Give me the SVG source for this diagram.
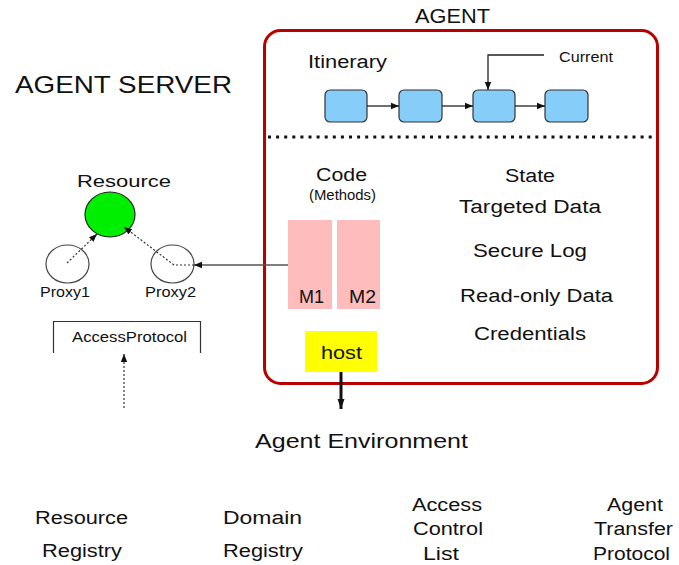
<svg xmlns="http://www.w3.org/2000/svg" width="679" height="565" viewBox="0 0 679 565">
  <style>
    text { font-family: "Liberation Sans", Arial, sans-serif; fill: #111; }
    .title { font-size: 24px; }
    .big { font-size: 20px; }
    .lbl { font-size: 18px; }
    .mid { font-size: 17px; }
    .sm { font-size: 15px; }
    .xs { font-size: 14px; }
    .hop { fill: #87cdfa; stroke: #333; stroke-width: 1.2; }
    .link { fill: none; stroke: #222; stroke-width: 1.3; }
    .dot { fill: none; stroke: #333; stroke-width: 1.2; stroke-dasharray: 2 2; }
    .proxy { fill: #fff; stroke: #444; stroke-width: 1.2; }
    .method { fill: #ffbcbc; }
  </style>
  <defs>
    <marker id="tri" viewBox="0 0 10 10" refX="10" refY="5" markerWidth="8" markerHeight="8" markerUnits="userSpaceOnUse" orient="auto">
      <path d="M0,1 L10,5 L0,9 z" fill="#111"/>
    </marker>
    <marker id="triBig" viewBox="0 0 10 10" refX="10" refY="5" markerWidth="10" markerHeight="10" markerUnits="userSpaceOnUse" orient="auto">
      <path d="M0,1.5 L10,5 L0,8.5 z" fill="#111"/>
    </marker>
  </defs>

  <rect width="679" height="565" fill="#fff"/>

  <!-- headings -->
  <text class="title" x="15" y="93" textLength="217" lengthAdjust="spacingAndGlyphs">AGENT SERVER</text>
  <text class="big" x="415" y="23" textLength="75" lengthAdjust="spacingAndGlyphs">AGENT</text>

  <!-- agent container -->
  <g id="agent">
    <rect x="264.5" y="30.5" width="393" height="353" rx="16" ry="16" fill="none" stroke="#b80000" stroke-width="3"/>
    <line x1="268" y1="137" x2="652" y2="137" stroke="#111" stroke-width="3" stroke-dasharray="3 5.1"/>
    <text class="lbl" x="308" y="68" textLength="79" lengthAdjust="spacingAndGlyphs">Itinerary</text>
    <text class="xs" x="559" y="62" textLength="54" lengthAdjust="spacingAndGlyphs">Current</text>
    <text class="lbl" x="316" y="181" textLength="51" lengthAdjust="spacingAndGlyphs">Code</text>
    <text class="sm" x="309" y="199.5" textLength="67" lengthAdjust="spacingAndGlyphs">(Methods)</text>
    <text class="lbl" x="505" y="182" textLength="50" lengthAdjust="spacingAndGlyphs">State</text>
    <text class="lbl" x="459" y="213" textLength="142" lengthAdjust="spacingAndGlyphs">Targeted Data</text>
    <text class="lbl" x="473" y="257" textLength="114" lengthAdjust="spacingAndGlyphs">Secure Log</text>
    <text class="lbl" x="460" y="302" textLength="153" lengthAdjust="spacingAndGlyphs">Read-only Data</text>
    <text class="lbl" x="474" y="340" textLength="112" lengthAdjust="spacingAndGlyphs">Credentials</text>
  </g>

  <!-- itinerary hops -->
  <g id="hop1"><rect class="hop" x="325" y="90" width="42" height="32" rx="5"/></g>
  <g id="hop2"><rect class="hop" x="399" y="90" width="43" height="32" rx="5"/></g>
  <g id="hop3"><rect class="hop" x="473" y="90" width="42" height="32" rx="5"/></g>
  <g id="hop4"><rect class="hop" x="545" y="90" width="43" height="32" rx="5"/></g>

  <!-- methods and host -->
  <g id="m1">
    <rect class="method" x="288" y="220" width="44" height="89"/>
    <text class="lbl" x="299" y="303" textLength="25" lengthAdjust="spacingAndGlyphs">M1</text>
  </g>
  <g id="m2">
    <rect class="method" x="337" y="220" width="43" height="89"/>
    <text class="lbl" x="349" y="303" textLength="27" lengthAdjust="spacingAndGlyphs">M2</text>
  </g>
  <g id="host">
    <rect x="305" y="331" width="72" height="41" fill="#ffff00"/>
    <text class="lbl" x="321" y="359" textLength="41" lengthAdjust="spacingAndGlyphs">host</text>
  </g>

  <!-- agent server side -->
  <g id="resource">
    <text class="mid" x="77" y="187" textLength="94" lengthAdjust="spacingAndGlyphs">Resource</text>
    <ellipse cx="110" cy="214.5" rx="25" ry="22.5" fill="#00ee00" stroke="#222" stroke-width="1.2"/>
  </g>
  <g id="proxy1">
    <ellipse class="proxy" cx="67.5" cy="264" rx="21.5" ry="19"/>
    <text class="xs" x="40" y="297" textLength="50" lengthAdjust="spacingAndGlyphs">Proxy1</text>
  </g>
  <g id="proxy2">
    <ellipse class="proxy" cx="172.5" cy="264" rx="21.5" ry="19"/>
    <text class="xs" x="145" y="297" textLength="51" lengthAdjust="spacingAndGlyphs">Proxy2</text>
  </g>
  <g id="access-protocol">
    <path d="M53.5,353 V321.5 H200.5 V353" fill="none" stroke="#333" stroke-width="1.2"/>
    <text class="xs" x="72" y="342" textLength="115" lengthAdjust="spacingAndGlyphs">AccessProtocol</text>
  </g>

  <!-- lower labels -->
  <g id="agent-environment">
    <text class="big" x="255" y="448" textLength="213" lengthAdjust="spacingAndGlyphs">Agent Environment</text>
  </g>
  <g id="resource-registry">
    <text class="lbl" x="35" y="524" textLength="93" lengthAdjust="spacingAndGlyphs">Resource</text>
    <text class="lbl" x="42" y="557" textLength="80" lengthAdjust="spacingAndGlyphs">Registry</text>
  </g>
  <g id="domain-registry">
    <text class="lbl" x="223" y="524" textLength="79" lengthAdjust="spacingAndGlyphs">Domain</text>
    <text class="lbl" x="223" y="557" textLength="80" lengthAdjust="spacingAndGlyphs">Registry</text>
  </g>
  <g id="access-control-list">
    <text class="lbl" x="412" y="511" textLength="70" lengthAdjust="spacingAndGlyphs">Access</text>
    <text class="lbl" x="413" y="535" textLength="70" lengthAdjust="spacingAndGlyphs">Control</text>
    <text class="lbl" x="423" y="560" textLength="36" lengthAdjust="spacingAndGlyphs">List</text>
  </g>
  <g id="agent-transfer-protocol">
    <text class="lbl" x="607" y="511" textLength="56" lengthAdjust="spacingAndGlyphs">Agent</text>
    <text class="lbl" x="594" y="535" textLength="79" lengthAdjust="spacingAndGlyphs">Transfer</text>
    <text class="lbl" x="593" y="560" textLength="77" lengthAdjust="spacingAndGlyphs">Protocol</text>
  </g>

  <!-- connectors -->
  <g id="connectors">
    <line class="link" x1="367" y1="106" x2="399" y2="106" marker-end="url(#tri)"/>
    <line class="link" x1="442" y1="106" x2="473" y2="106" marker-end="url(#tri)"/>
    <line class="link" x1="515" y1="106" x2="545" y2="106" marker-end="url(#tri)"/>
    <path class="link" d="M544,55 H488 V90" marker-end="url(#tri)"/>
    <line x1="288" y1="265" x2="194" y2="265" stroke="#555" stroke-width="1.3" marker-end="url(#tri)"/>
    <path class="dot" d="M67,263 L97,234" marker-end="url(#tri)"/>
    <path class="dot" d="M194,265 H174 L124,227" marker-end="url(#tri)"/>
    <line class="dot" x1="124" y1="408" x2="124" y2="354" marker-end="url(#tri)"/>
    <line x1="341" y1="372" x2="341" y2="409" stroke="#111" stroke-width="3" marker-end="url(#triBig)"/>
  </g>
</svg>
